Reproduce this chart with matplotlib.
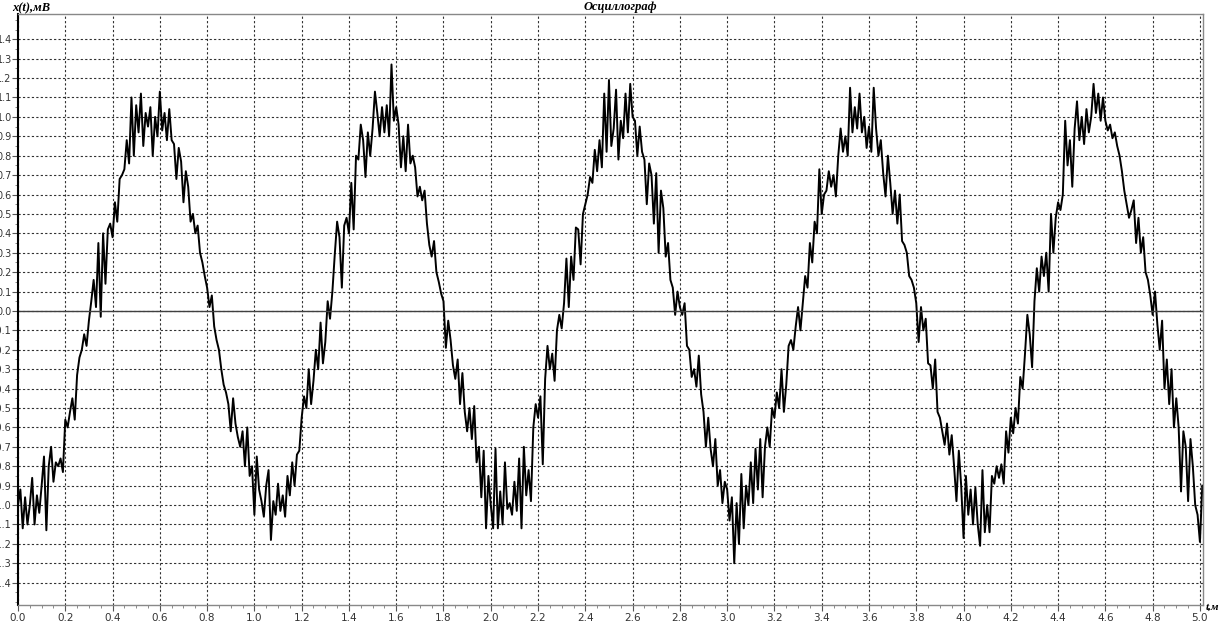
import numpy as np
import matplotlib.pyplot as plt
from matplotlib.ticker import MultipleLocator

# oscillogram samples, one value every 0.01 s (mV)
period1 = [-1.00, -0.92, -1.12, -0.96, -1.10, -1.00, -0.86, -1.10, -0.95, -1.04,
           -0.90, -0.75, -1.13, -0.80, -0.70, -0.88, -0.78, -0.80, -0.76, -0.83,
           -0.56, -0.60, -0.52, -0.45, -0.56, -0.33, -0.24, -0.20, -0.12, -0.18,
           -0.05, 0.05, 0.16, 0.02, 0.35, -0.03, 0.40, 0.14, 0.42, 0.45,
           0.38, 0.56, 0.46, 0.68, 0.70, 0.73, 0.88, 0.76, 1.10, 0.80,
           1.06, 0.92, 1.12, 0.85, 1.02, 0.95, 1.05, 0.80, 1.00, 0.90,
           1.13, 0.93, 1.02, 0.88, 1.04, 0.88, 0.86, 0.68, 0.84, 0.77,
           0.56, 0.72, 0.64, 0.46, 0.50, 0.40, 0.44, 0.30, 0.25, 0.18,
           0.12, 0.02, 0.08, -0.08, -0.15, -0.20, -0.30, -0.38, -0.42, -0.48,
           -0.62, -0.45, -0.58, -0.65, -0.70, -0.62, -0.80, -0.60, -0.85, -0.80]
period2 = [-1.05, -0.75, -0.92, -0.98, -1.06, -0.90, -0.82, -1.18, -0.98, -1.05,
           -0.89, -1.03, -0.95, -1.06, -0.85, -0.95, -0.78, -0.90, -0.74, -0.72,
           -0.55, -0.44, -0.50, -0.30, -0.48, -0.36, -0.20, -0.30, -0.06, -0.27,
           -0.16, 0.05, -0.04, 0.10, 0.29, 0.46, 0.38, 0.12, 0.44, 0.48,
           0.40, 0.66, 0.42, 0.80, 0.78, 0.96, 0.88, 0.69, 0.92, 0.80,
           0.94, 1.13, 1.02, 0.90, 1.05, 0.92, 1.06, 0.90, 1.27, 0.98,
           1.05, 0.96, 0.74, 0.90, 0.72, 0.96, 0.76, 0.80, 0.74, 0.59,
           0.64, 0.57, 0.62, 0.45, 0.34, 0.28, 0.36, 0.20, 0.15, 0.09,
           0.05, -0.19, -0.05, -0.15, -0.28, -0.35, -0.25, -0.48, -0.32, -0.52,
           -0.62, -0.50, -0.66, -0.49, -0.78, -0.70, -0.96, -0.72, -1.12, -0.85]
period3 = [-1.00, -1.12, -0.71, -1.12, -0.93, -1.10, -0.78, -1.02, -0.99, -1.05,
           -0.88, -1.03, -0.76, -1.12, -0.70, -0.95, -0.82, -0.98, -0.60, -0.48,
           -0.55, -0.44, -0.79, -0.35, -0.18, -0.30, -0.22, -0.36, -0.10, -0.02,
           -0.09, 0.04, 0.27, 0.02, 0.28, 0.16, 0.43, 0.42, 0.24, 0.50,
           0.55, 0.60, 0.69, 0.66, 0.83, 0.72, 0.88, 0.74, 1.12, 0.82,
           1.19, 0.85, 0.94, 1.14, 0.78, 0.98, 0.89, 1.12, 0.92, 1.17,
           1.00, 0.98, 0.80, 0.95, 0.82, 0.78, 0.55, 0.76, 0.70, 0.45,
           0.71, 0.30, 0.62, 0.53, 0.28, 0.35, 0.16, 0.12, -0.02, 0.10,
           0.02, -0.02, 0.04, -0.18, -0.20, -0.34, -0.30, -0.39, -0.23, -0.43,
           -0.52, -0.70, -0.55, -0.71, -0.80, -0.66, -0.90, -0.82, -0.99, -0.88]
period4 = [-0.92, -1.08, -0.96, -1.30, -0.99, -1.20, -0.84, -1.12, -0.90, -1.00,
           -0.78, -0.99, -0.71, -0.92, -0.66, -0.96, -0.70, -0.60, -0.70, -0.50,
           -0.55, -0.42, -0.50, -0.30, -0.52, -0.38, -0.18, -0.15, -0.20, -0.08,
           0.02, -0.10, 0.04, 0.18, 0.12, 0.35, 0.25, 0.46, 0.40, 0.73,
           0.50, 0.60, 0.62, 0.72, 0.64, 0.70, 0.59, 0.80, 0.94, 0.82,
           0.90, 0.80, 1.15, 0.92, 1.05, 0.94, 1.12, 0.92, 1.00, 0.84,
           0.95, 0.82, 1.15, 0.94, 0.80, 0.88, 0.71, 0.59, 0.80, 0.66,
           0.50, 0.62, 0.45, 0.60, 0.36, 0.34, 0.30, 0.18, 0.16, 0.12,
           0.04, -0.16, 0.02, -0.10, -0.04, -0.27, -0.28, -0.40, -0.25, -0.52,
           -0.55, -0.62, -0.69, -0.58, -0.74, -0.64, -0.80, -0.98, -0.72, -0.90]
period5 = [-1.17, -0.85, -1.05, -0.92, -1.10, -0.91, -1.10, -1.21, -0.82, -1.14,
           -1.00, -1.14, -0.85, -0.89, -0.80, -0.86, -0.79, -0.89, -0.62, -0.73,
           -0.55, -0.63, -0.50, -0.58, -0.34, -0.40, -0.22, -0.02, -0.12, -0.29,
           0.05, 0.22, 0.10, 0.28, 0.18, 0.30, 0.10, 0.50, 0.30, 0.48,
           0.56, 0.52, 0.60, 0.98, 0.75, 0.88, 0.64, 0.94, 1.08, 0.88,
           1.00, 0.86, 1.04, 0.92, 1.00, 1.17, 1.02, 1.12, 0.98, 1.10,
           0.98, 0.93, 0.96, 0.89, 0.92, 0.85, 0.80, 0.72, 0.62, 0.55,
           0.48, 0.52, 0.57, 0.35, 0.48, 0.30, 0.38, 0.20, 0.16, 0.08,
           -0.02, 0.10, -0.07, -0.20, -0.05, -0.40, -0.25, -0.48, -0.30, -0.60,
           -0.45, -0.60, -0.93, -0.62, -0.70, -0.98, -0.66, -0.80, -1.00, -1.05]
tail = [-1.19, -0.90]

x = np.array(period1 + period2 + period3 + period4 + period5 + tail)
t = np.arange(len(x)) * 0.01

serif = 'Liberation Serif'

fig = plt.figure(figsize=(12.21, 6.24), dpi=100)
ax = fig.add_axes([18 / 1221, 19 / 624, 1185 / 1221, 591 / 624])

ax.plot(t, x, color='black', lw=1.4)
ax.axhline(0, color='#404040', lw=1.0)

ax.set_xlim(0, 5.013)
ax.set_ylim(-1.515, 1.53)

yt = np.round(np.arange(-1.4, 1.45, 0.1), 1)
xt = np.round(np.arange(0, 5.01, 0.2), 1)
ax.set_yticks(yt)
ax.set_yticklabels(['%.1f' % v for v in yt])
ax.set_xticks(xt)
ax.set_xticklabels(['%.1f' % v for v in xt])
ax.xaxis.set_minor_locator(MultipleLocator(0.05))
ax.yaxis.set_minor_locator(MultipleLocator(0.05))

ax.grid(True, which='major', color='#303030', lw=0.8, linestyle=(0, (2, 2)))
ax.tick_params(axis='both', which='major', labelsize=7.5, length=4, width=0.8,
               color='#555555', labelcolor='#333333')
ax.tick_params(axis='y', labelsize=7, pad=0.5)
ax.tick_params(axis='both', which='minor', length=2, width=0.6, color='#777777')
ax.tick_params(axis='x', pad=2)

ax.spines['left'].set_color('black')
ax.spines['left'].set_linewidth(1.5)
for s in ['top', 'right', 'bottom']:
    ax.spines[s].set_color('#888888')
    ax.spines[s].set_linewidth(1.0)

fig.text(620 / 1221, 1 - 7 / 624, 'Осциллограф', ha='center', va='center',
         family=serif, fontweight='bold', style='italic', fontsize=9)
fig.text(12 / 1221, 1 - 8 / 624, 'x(t),мВ', ha='left', va='center',
         family=serif, fontweight='bold', style='italic', fontsize=9)
fig.text(1206 / 1221, 1 - 607 / 624, 't,м', ha='left', va='center',
         family=serif, fontweight='bold', style='italic', fontsize=8)

fig.savefig('out.png', dpi=100)
